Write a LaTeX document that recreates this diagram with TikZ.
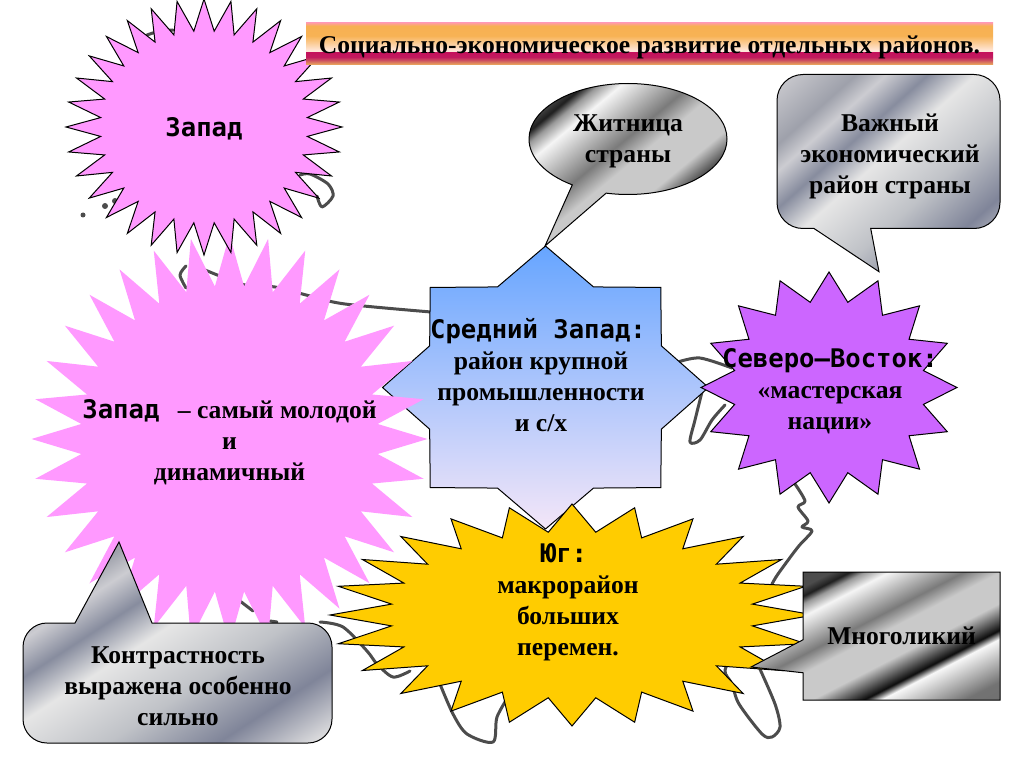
\documentclass[tikz,border=0pt]{standalone}
\usepackage{fontspec}
\setmainfont{Liberation Serif}
\setmonofont{DejaVu Sans Mono}
\usetikzlibrary{shapes.geometric,shapes.callouts}

\definecolor{burstpink}{HTML}{FF99FF}
\definecolor{burstviolet}{HTML}{CC66FF}
\definecolor{burstgold}{HTML}{FFCC00}
\definecolor{midtop}{HTML}{66A5FF}
\definecolor{midmiddle}{HTML}{8EBDF8}
\definecolor{midbottom}{HTML}{F4E6F8}

\pgfdeclarehorizontalshading{chrome}{100bp}{rgb(0bp)=(.25,.25,.25); rgb(22bp)=(.3,.3,.3); rgb(25bp)=(.12,.12,.12); rgb(27.5bp)=(.6,.6,.6); rgb(31.5bp)=(.96,.96,.96); rgb(44bp)=(.48,.48,.48); rgb(50bp)=(.79,.79,.79); rgb(60bp)=(.79,.79,.79); rgb(68.7bp)=(.05,.05,.05); rgb(71.5bp)=(.97,.97,.97); rgb(85.4bp)=(.45,.45,.45); rgb(100bp)=(.4,.4,.4)}
\pgfdeclarehorizontalshading{chromebox}{100bp}{rgb(0bp)=(.25,.25,.25); rgb(27.2bp)=(.3,.3,.3); rgb(29.7bp)=(.12,.12,.12); rgb(31.7bp)=(.6,.6,.6); rgb(35bp)=(.96,.96,.96); rgb(45.1bp)=(.48,.48,.48); rgb(50bp)=(.79,.79,.79); rgb(58.1bp)=(.79,.79,.79); rgb(65.2bp)=(.05,.05,.05); rgb(67.5bp)=(.97,.97,.97); rgb(78.8bp)=(.45,.45,.45); rgb(100bp)=(.4,.4,.4)}
\pgfdeclarehorizontalshading{steel}{100bp}{rgb(0bp)=(.75,.75,.77); rgb(16.8bp)=(.78,.78,.8); rgb(27.2bp)=(.62,.63,.67); rgb(32bp)=(.8,.8,.82); rgb(38.6bp)=(.53,.55,.62); rgb(46.2bp)=(.9,.9,.9); rgb(59.5bp)=(.75,.76,.78); rgb(71.9bp)=(.5,.52,.6); rgb(82.3bp)=(.85,.85,.86); rgb(100bp)=(.85,.85,.86)}
\pgfdeclareverticalshading{titleband}{100bp}{rgb(0bp)=(.93,.7,.36); rgb(25bp)=(.93,.7,.36); rgb(31bp)=(.8,.3,.38); rgb(34.5bp)=(.76,.1,.37); rgb(41bp)=(.77,.06,.36); rgb(41.6bp)=(1,.9,.85); rgb(43bp)=(1,.9,.84); rgb(59.7bp)=(.97,.7,.33); rgb(71.6bp)=(.97,.69,.32); rgb(75bp)=(1,.62,.62); rgb(100bp)=(1,.62,.62)}

\begin{document}
\begin{tikzpicture}[
    x=1pt, y=-1pt,
    burst/.style={star, star point ratio=1.33, inner sep=0pt, minimum size=200pt, transform shape, draw=black, line width=1pt},
    metal/.style={draw=black, line width=1pt},
    boxtext/.style={align=center, font=\fontsize{25.6}{31}\selectfont\bfseries},
    coast/.style={line width=3pt, line join=round, line cap=round, black!70}
]
\useasboundingbox (0,0) rectangle (1024,767);

% map behind the shapes
\draw[coast] plot[smooth] coordinates {(147,35) (160,31) (173,30)};
\draw[coast] plot[smooth] coordinates {(300,175) (310,174) (328,184) (333,196) (322,207) (317,196)};
\draw[coast] plot[smooth] coordinates {(186,266) (180,275) (186,288)};
\draw[coast] plot[smooth] coordinates {(205,270) (245,285) (275,287) (310,296) (345,304) (431,312)};
\draw[coast] plot[smooth] coordinates {(678,362) (700,358) (732,368)};
\draw[coast] plot[smooth] coordinates {(702,392) (695,420) (690,442) (700,440) (712,420) (725,405)};
\draw[coast] plot[smooth] coordinates {(795,484) (805,501) (798,507) (808,521) (802,527) (812,531) (798,547) (778,574) (772,584)};
\draw[coast] plot[smooth] coordinates {(738,647) (725,670) (732,684) (739,704) (762,734) (772,737) (780,727) (775,704) (759,667)};
\draw[coast] plot[smooth] coordinates {(320,622) (343,627) (367,651) (377,664) (393,677) (410,671)};
\draw[coast] plot[smooth] coordinates {(440,684) (453,714) (467,734) (493,742) (497,717) (510,694)};
\draw[coast] (240,601) -- (253,611);
\draw[coast] (270,621) -- (277,622);
\fill[black!70] (83,215) circle (2.5pt);
\fill[black!70] (105,206) circle (3pt);
\fill[black!70] (115,201) circle (3pt);

\node[burst, star points=8, star point ratio=1.3, top color=midtop, middle color=midmiddle, bottom color=midbottom, xscale=1.63, yscale=1.415] (midwestshape) at (545.5,387.5) {};
\node[burst, star points=32, draw=none, fill=burstpink, xscale=1.98, yscale=2.04] (bigwestshape) at (229.5,439) {};
\node[burst, star points=32, fill=burstpink, xscale=1.38, yscale=1.28] (westshape) at (204,127) {};
\node[burst, star points=16, fill=burstviolet, xscale=1.28, yscale=1.155] (northeastshape) at (829,387.5) {};
\node[burst, star points=24, fill=burstgold, xscale=2.42, yscale=1.11] (southshape) at (572,615) {};

\node[boxtext, font=\ttfamily\bfseries\fontsize{25.6}{31}\selectfont] (west) at (204,129) {Запад};
\node[boxtext] (bigwest) at (229.5,442) {{\ttfamily Запад}\hspace{12pt} – самый молодой\\и\\динамичный};
\node[boxtext] (midwest) at (541,375) {{\ttfamily Средний Запад:}\hspace*{6pt}\\район крупной\\промышленности\\и с/х};
\node[boxtext] (northeast) at (830,391) {{\ttfamily Северо–Восток:}\\«мастерская\\нации»};
\node[boxtext] (south) at (568,602) {{\ttfamily Юг:}\hspace*{8pt}\\макрорайон\\больших\\перемен.};

\node[ellipse callout, metal, shading=chrome, shading angle=-50.4, minimum width=198pt, minimum height=111pt, inner sep=0pt, callout absolute pointer={(545,246)}, callout pointer arc=21.5] (granary) at (628,139) {};
\node[boxtext] (granarytext) at (628,141) {Житница\\страны};

\node[rectangle callout, metal, shading=chromebox, shading angle=-62.8, boxtext, minimum width=197pt, minimum height=128pt, inner sep=0pt, callout absolute pointer={(751,667)}, callout pointer width=33pt] (manyfaced) at (901.5,636) {Многоликий};

\path[metal, shade, shading=steel, shading angle=-48.4, rounded corners=26pt] (814,228.5) -- (777,228.5) -- (777,74.5) -- (1000,74.5) -- (1000,228.5) [sharp corners] -- (870.7,228.5) -- (879,271.7) -- cycle;
\node[boxtext] (keyregion) at (890,156) {Важный\\экономический\\район страны};

\path[metal, shade, shading=steel, shading angle=-57, rounded corners=24pt] (75,623) -- (23,623) -- (23,743) -- (332,743) -- (332,623) [sharp corners] -- (152,623) -- (119,542) -- cycle;
\node[boxtext] (contrast) at (178,686) {Контрастность\\выражена особенно\\сильно};

\node[shade, shading=titleband, minimum width=687pt, minimum height=42pt, inner sep=0pt, boxtext] (title) at (649.5,44) {\raisebox{-10pt}[0pt][0pt]{Социально-экономическое развитие отдельных районов.}};

\end{tikzpicture}
\end{document}
